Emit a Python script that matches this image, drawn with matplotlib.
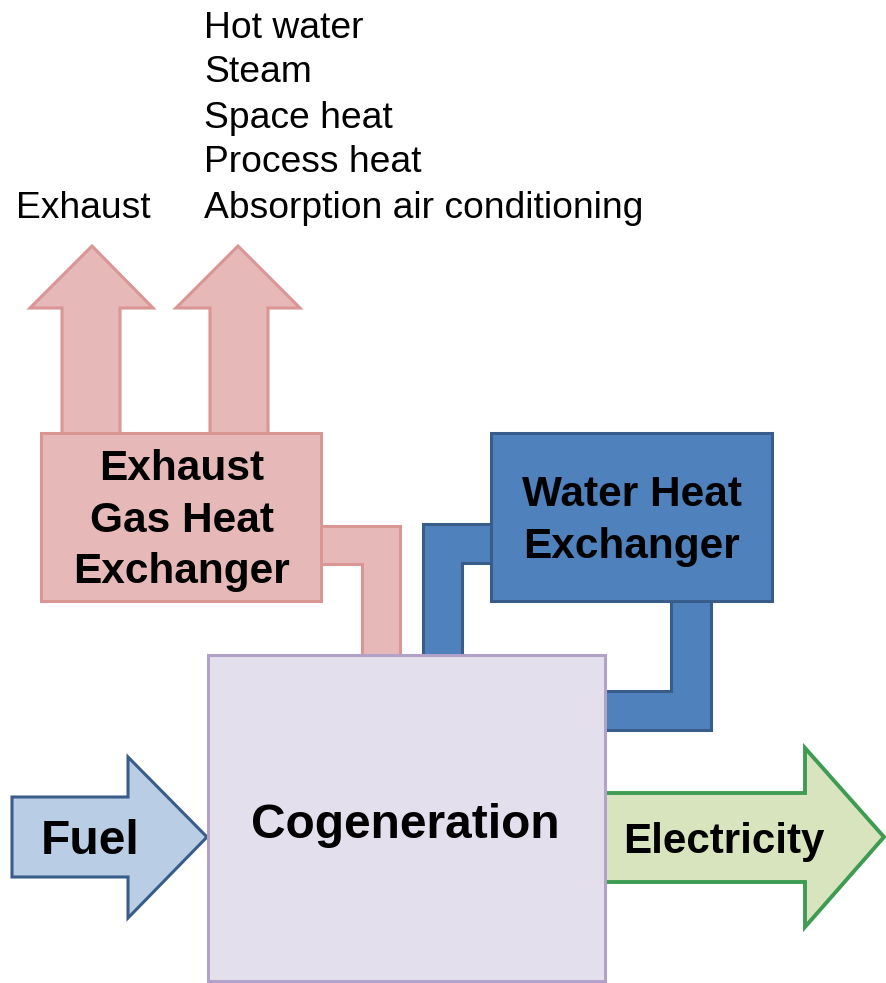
import matplotlib.pyplot as plt
from matplotlib.patches import Polygon, Rectangle

plt.rcParams['font.family'] = ['Liberation Sans', 'DejaVu Sans']

# labels
uses = ["Hot water", "Steam", "Space heat", "Process heat", "Absorption air conditioning"]
exhaust_label = "Exhaust"
gas_hx_label = ["Exhaust", "Gas Heat", "Exchanger"]
water_hx_label = ["Water Heat", "Exchanger"]
core_label = "Cogeneration"
input_label = "Fuel"
output_label = "Electricity"

# colours
PINK_FILL, PINK_EDGE = "#E6B9B8", "#D99694"
BLUE_FILL, BLUE_EDGE = "#4F81BD", "#385D8A"
LIGHT_BLUE = "#B9CDE5"
PURPLE_FILL, PURPLE_EDGE = "#E4DFEC", "#B3A2C7"
GREEN_FILL, GREEN_EDGE = "#D7E4BD", "#3D9C52"

W, H = 886, 983
fig = plt.figure(figsize=(W / 100, H / 100), dpi=100)
ax = fig.add_axes([0, 0, 1, 1])
ax.set_xlim(0, W)
ax.set_ylim(H, 0)
ax.axis('off')


def poly(pts, fc, ec, lw=2.2, z=1):
    ax.add_patch(Polygon(pts, closed=True, facecolor=fc, edgecolor=ec,
                         linewidth=lw, joinstyle='miter', zorder=z))


def up_arrow(cx, x0, x1, s0, s1, tip, neck, base):
    poly([(s0, base), (s0, neck), (x0, neck), (cx, tip), (x1, neck),
          (x1, neck), (s1, neck), (s1, base)], PINK_FILL, PINK_EDGE)


# exhaust arrows
up_arrow(92, 30, 153, 62, 120, 246, 308, 440)
up_arrow(238, 176, 300, 210, 268, 246, 308, 440)

# pipes
poly([(310, 526), (400, 526), (400, 662), (362, 662), (362, 564), (310, 564)],
     PINK_FILL, PINK_EDGE)
poly([(500, 524), (423, 524), (423, 662), (462, 662), (462, 563), (500, 563)],
     BLUE_FILL, BLUE_EDGE)
poly([(671, 595), (711, 595), (711, 730), (598, 730), (598, 691), (671, 691)],
     BLUE_FILL, BLUE_EDGE)

# heat exchanger boxes
ax.add_patch(Rectangle((41, 433), 280, 168, facecolor=PINK_FILL, edgecolor=PINK_EDGE,
                       linewidth=2.2, zorder=3))
ax.add_patch(Rectangle((491, 433), 281, 168, facecolor=BLUE_FILL, edgecolor=BLUE_EDGE,
                       linewidth=2.2, zorder=3))

# fuel / electricity arrows
poly([(12, 797), (128, 797), (128, 757), (207, 837), (128, 918), (128, 877), (12, 877)],
     LIGHT_BLUE, BLUE_EDGE, z=2)
poly([(598, 793), (805, 793), (805, 748), (884, 837), (805, 927), (805, 882), (598, 882)],
     GREEN_FILL, GREEN_EDGE, lw=2.8, z=2)

# cogeneration box
ax.add_patch(Rectangle((208, 655), 397, 326, facecolor=PURPLE_FILL, edgecolor=PURPLE_EDGE,
                       linewidth=2.2, zorder=4))

# text
for i, t in enumerate(uses):
    ax.text(204, 28 + 45 * i, t, fontsize=26.8, ha='left', va='center', zorder=5)
ax.text(83, 209, exhaust_label, fontsize=26.8, ha='center', va='center', zorder=5)

for i, t in enumerate(gas_hx_label):
    ax.text(182, 469 + 51.5 * i, t, fontsize=30.5, fontweight='bold',
            ha='center', va='center', zorder=5)
for i, t in enumerate(water_hx_label):
    ax.text(632, 495 + 52 * i, t, fontsize=30.5, fontweight='bold',
            ha='center', va='center', zorder=5)

ax.text(405, 825, core_label, fontsize=34.5, fontweight='bold', ha='center', va='center', zorder=5)
ax.text(90, 842, input_label, fontsize=34.5, fontweight='bold', ha='center', va='center', zorder=5)
ax.text(724, 842, output_label, fontsize=30.3, fontweight='bold', ha='center', va='center', zorder=5)

fig.savefig("out.png", dpi=100)
